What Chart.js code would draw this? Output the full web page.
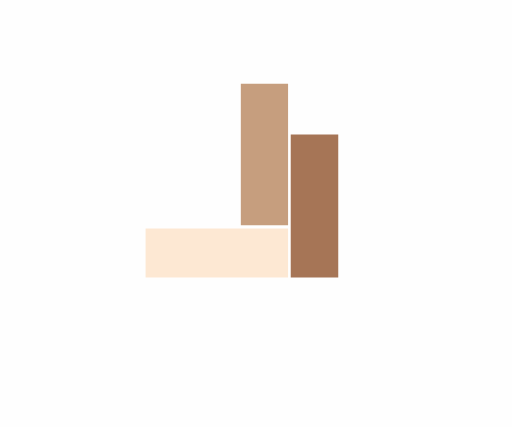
<!DOCTYPE html>
<html>
<head>
<meta charset="utf-8">
<script src="https://cdn.jsdelivr.net/npm/chart.js@4.4.0/dist/chart.umd.min.js"></script>
<style>
  html, body { margin: 0; padding: 0; background: #fefefe; }
  #wrap { width: 512px; height: 427px; }
</style>
</head>
<body>
<div id="wrap"><canvas id="chart"></canvas></div>
<script>
// Blocks, in axis units (x and y both run 0..100)
const categories = ['A', 'B', 'C'];
const xStart = [28.5, 47.1, 56.85];
const xEnd = [56.2, 56.2, 66.0];
const yLow = [35.1, 47.3, 35.1];
const yHigh = [46.4, 80.3, 68.4];

const colors = ['#fde8d3', '#c69e7e', '#a67556'];

// One floating bar per block, centred on its x range
const datasets = categories.map((name, i) => ({
    label: name,
    data: [{ x: (xStart[i] + xEnd[i]) / 2, y: [yLow[i], yHigh[i]] }],
    backgroundColor: colors[i],
    borderWidth: 0,
    grouped: false,
    // width follows the x range through the x scale
    barThickness: (ctx) => {
        const sx = ctx.chart.scales.x;
        return sx.getPixelForValue(xEnd[i]) - sx.getPixelForValue(xStart[i]);
    }
}));

new Chart(document.getElementById('chart'), {
    type: 'bar',
    data: { datasets: datasets },
    options: {
        responsive: true,
        maintainAspectRatio: false,
        animation: false,
        layout: { padding: 0 },
        plugins: {
            legend: { display: false },
            tooltip: { enabled: false }
        },
        scales: {
            x: { type: 'linear', min: 0, max: 100, offset: false, display: false },
            y: { type: 'linear', min: 0, max: 100, display: false }
        }
    }
});
</script>
</body>
</html>
